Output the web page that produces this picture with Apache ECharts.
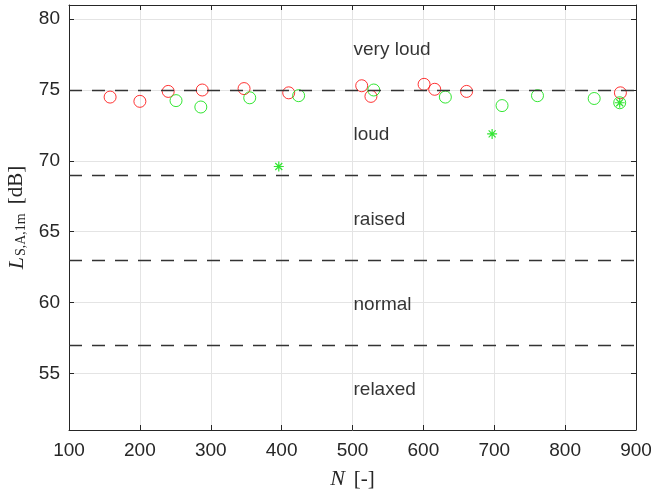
<!DOCTYPE html>
<html>
<head>
<meta charset="utf-8">
<script src="https://cdn.jsdelivr.net/npm/echarts@6/dist/echarts.min.js"></script>
<style>
  html, body { margin: 0; padding: 0; background: #fff; }
  #chart { width: 651px; height: 492px; }
</style>
</head>
<body>
<div id="chart"></div>
<script>
// values
const redN = [158, 200, 240, 288, 347, 410, 513, 526, 601, 616, 661, 878]
const redL = [74.5, 74.2, 74.9, 75.0, 75.1, 74.8, 75.3, 74.55, 75.4, 75.05, 74.9, 74.8]
const greenN = [251, 286, 355, 424, 530, 631, 711, 761, 841, 877]
const greenL = [74.25, 73.8, 74.45, 74.6, 75.0, 74.5, 73.9, 74.6, 74.4, 74.1]
const starN = [396, 697, 877]
const starL = [69.6, 71.9, 74.1]

const limits = [75, 69, 63, 57]
const zoneNames = ['very loud', 'loud', 'raised', 'normal', 'relaxed']
const zoneL = [78, 72, 66, 60, 54]
const zoneN = 500

const yTicks = [55, 60, 65, 70, 75, 80]

const axisColor = '#262626'
const gridColor = '#e4e4e4'
const font = 'Liberation Sans'
const serif = 'Liberation Serif'

const pairs = (xs, ys) => xs.map((x, i) => [x, ys[i]])

const chart = echarts.init(document.getElementById('chart'))

const frameX = {
  min: 100,
  max: 900,
  interval: 100,
  axisLine: { show: true, onZero: false, lineStyle: { color: axisColor, width: 1 } },
  axisTick: { inside: true, length: 5, lineStyle: { color: axisColor } }
}
const frameY = {
  min: 51,
  max: 81,
  axisLine: { show: true, onZero: false, lineStyle: { color: axisColor, width: 1 } },
  axisTick: { inside: true, length: 5, customValues: yTicks, lineStyle: { color: axisColor } }
}

chart.setOption({
  animation: false,
  grid: { left: 69, right: 15, top: 5, bottom: 62, outerBoundsMode: 'none' },
  xAxis: [
    Object.assign({}, frameX, {
      type: 'value',
      position: 'bottom',
      name: '{i|N}{r|[-]}',
      nameLocation: 'middle',
      nameGap: 38,
      nameTextStyle: {
        rich: {
          i: { fontFamily: serif, fontStyle: 'italic', fontSize: 22, color: axisColor },
          r: { fontFamily: serif, fontSize: 21, color: axisColor, padding: [0, 0, 0, 9] }
        }
      },
      axisLabel: { fontFamily: font, fontSize: 19, color: axisColor, margin: 11 },
      splitLine: { show: true, lineStyle: { color: gridColor, width: 1 } }
    }),
    Object.assign({}, frameX, {
      type: 'value',
      position: 'top',
      axisLabel: { show: false },
      splitLine: { show: false }
    })
  ],
  yAxis: [
    Object.assign({}, frameY, {
      type: 'value',
      position: 'left',
      name: '{i|L}{s|S,A,1m}{r|[dB]}',
      nameLocation: 'middle',
      nameRotate: 90,
      nameGap: 40,
      nameTextStyle: {
        rich: {
          i: { fontFamily: serif, fontStyle: 'italic', fontSize: 22, color: axisColor },
          s: { fontFamily: serif, fontSize: 14, color: axisColor, verticalAlign: 'bottom', padding: [0, 0, 0, 1] },
          r: { fontFamily: serif, fontSize: 21, color: axisColor, padding: [0, 0, 0, 9] }
        }
      },
      axisLabel: { fontFamily: font, fontSize: 19, color: axisColor, margin: 9, customValues: yTicks },
      splitLine: { show: true, lineStyle: { color: gridColor, width: 1 } }
    }),
    Object.assign({}, frameY, {
      type: 'value',
      position: 'right',
      axisLabel: { show: false },
      splitLine: { show: false }
    })
  ],
  series: [
    {
      name: 'limits',
      type: 'scatter',
      symbolSize: 0,
      data: zoneNames.map((n, i) => ({ name: n, value: [zoneN, zoneL[i]] })),
      label: {
        show: true,
        position: 'right',
        distance: 1,
        offset: [0, 2],
        formatter: '{b}',
        fontFamily: font,
        fontSize: 19,
        color: '#000'
      },
      markLine: {
        silent: true,
        symbol: 'none',
        label: { show: false },
        lineStyle: { color: '#333', width: 1.3, type: [13, 10] },
        data: limits.map(v => ({ yAxis: v }))
      },
      z: 1
    },
    {
      name: 'red',
      type: 'scatter',
      symbol: 'circle',
      symbolSize: 12,
      itemStyle: { color: 'rgba(0,0,0,0)', borderColor: '#ff0000', borderWidth: 1 },
      data: pairs(redN, redL),
      z: 3
    },
    {
      name: 'green',
      type: 'scatter',
      symbol: 'circle',
      symbolSize: 12,
      itemStyle: { color: 'rgba(0,0,0,0)', borderColor: '#00e000', borderWidth: 1 },
      data: pairs(greenN, greenL),
      z: 4
    },
    {
      name: 'green star',
      type: 'scatter',
      symbol: 'path://M0,5L10,5M5,0L5,10M1.5,1.5L8.5,8.5M1.5,8.5L8.5,1.5',
      symbolSize: 10,
      itemStyle: { color: 'rgba(0,0,0,0)', borderColor: '#00e000', borderWidth: 1.2 },
      data: pairs(starN, starL),
      z: 5
    }
  ]
})
</script>
</body>
</html>
